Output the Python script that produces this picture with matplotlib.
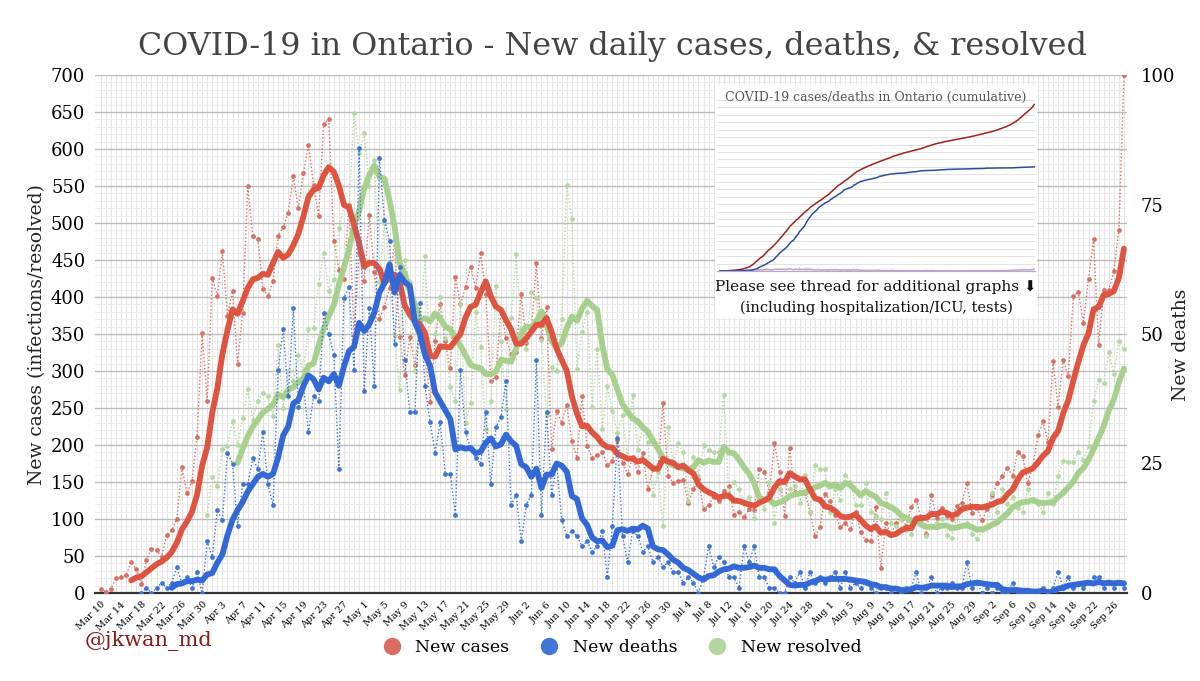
import numpy as np
import pandas as pd
import matplotlib

matplotlib.use("Agg")
import matplotlib.pyplot as plt
from matplotlib.lines import Line2D
from matplotlib.patches import Rectangle

plt.rcParams["font.family"] = ["DejaVu Serif", "DejaVu Sans"]

NA = np.nan
START = "2020-03-10"

# daily new cases, Mar 10 - Sep 28
cases_mar = [6, 1, 6, 20, 21, 24, 42, 32, 12, 45, 60, 58, 49, 78, 85, 100, 170, 135, 151, 211, 351, 260]
cases_apr = [426, 401, 462, 375, 408, 309, 379, 550, 483, 478, 411, 401, 421, 483, 494, 514, 564, 520, 567, 606,
             551, 510, 634, 640, 476, 437, 424, 525, 347, 459]
cases_may = [421, 511, 434, 370, 387, 412, 477, 346, 294, 346, 308, 361, 329, 258, 341, 391, 340, 304, 427, 390,
             413, 441, 412, 460, 404, 287, 292, 383, 344, 323, 326]
cases_jun = [404, 338, 356, 446, 344, 387, 194, 246, 230, 254, 205, 183, 266, 198, 183, 186, 191, 173, 178, 207,
             176, 161, 184, 163, 189, 140, 167, 170, 257, 158]
cases_jul = [149, 151, 153, 122, 140, 154, 113, 119, 130, 124, 138, 144, 105, 110, 103, 113, 112, 167, 164, 135,
             203, 164, 104, 196, 137, 137, 135, 110, 77, 89, 134]
cases_aug = [125, 105, 89, 95, 86, 110, 83, 71, 70, 116, 34, 95, 78, 95, 105, 90, 116, 126, 100, 80,
             132, 101, 115, 104, 100, 118, 122, 148, 108, 115, 98]
cases_sep = [114, 132, 148, 158, 169, 158, 190, 185, 149, 170, 213, 232, 204, 313, 251, 315, 293, 401, 407, 365,
             425, 478, 335, 409, 409, 435, 491, 700]

# daily new deaths
deaths_mar = [NA] * 8 + [0, 1, 0, 1, 2, 1, 2, 5, 2, 3, 1, 4, 0, 10]
deaths_apr = [7, 16, 14, 27, 25, 13, 21, 21, 26, 24, 31, 21, 17, 43, 51, 38, 55, 36, 40, 31,
              38, 37, 54, 50, 46, 24, 57, 59, 43, 86]
deaths_may = [39, 55, 40, 84, 72, 68, 48, 63, 45, 35, 35, 56, 40, 33, 27, 33, 23, 23, 15, 43,
              31, 28, 26, 25, 35, 21, 32, 34, 41, 17, 19]
deaths_jun = [10, 17, 19, 45, 15, 35, 19, 25, 14, 11, 12, 11, 9, 10, 8, 9, 12, 3, 13, 30,
              11, 6, 12, 11, 8, 9, 6, 7, 5, 6]
deaths_jul = [4, 4, 2, 3, 2, 0, 3, 9, 5, 7, 6, 3, 3, 1, 9, 6, 9, 3, 3, 1, 1, 0, 0, 3, 2, 4, 1, 4, 2, 3, 2]
deaths_aug = [3, 4, 1, 4, 1, 2, 1, 2, 1, 0, 1, 1, 0, 1, 0, 1, 1, 4, 0, 1, 3, 0, 1, 1, 2, 1, 1, 6, 1, 2, 0]
deaths_sep = [1, 0, 1, 0, 0, 2, 0, 0, 0, 0, 0, 1, 0, 1, 4, 1, 3, 1, 2, 1, 2, 3, 3, 1, 2, 1, 2, 1]

# daily new resolved
resolved_mar = [NA] * 21 + [105]
resolved_apr = [157, 144, 195, 199, 233, 200, 236, 276, 234, 260, 270, 266, 239, 335, 250, 300, 286, 321, 300, 357,
                358, 417, 460, 408, 424, 493, 525, 520, 648, 595]
resolved_may = [621, 550, 585, 420, 500, 442, 348, 275, 450, 420, 300, 350, 455, 320, 350, 400, 344, 278, 259, 390,
                230, 257, 380, 332, 222, 259, 415, 341, 249, 371, 458]
resolved_jun = [357, 330, 407, 399, 342, 240, 305, 300, 370, 552, 506, 303, 353, 380, 252, 330, 221, 280, 246, 216,
                240, 182, 267, 193, 224, 204, 132, 163, 91, 225]
resolved_jul = [172, 203, 190, 125, 184, 158, 200, 193, 190, 190, 268, 130, 150, 140, 120, 130, 101, 130, 113, 150,
                95, 140, 150, 140, 145, 122, 160, 110, 173, 167, 167]
resolved_aug = [110, 140, 126, 160, 150, 119, 119, 149, 110, 104, 100, 135, 95, 90, 100, 85, 80, 100, 95, 77,
                90, 95, 100, 79, 75, 105, 90, 95, 80, 73, 85]
resolved_sep = [90, 135, 110, 140, 120, 130, 115, 110, 140, 125, 120, 110, 135, 120, 158, 179, 177, 177, 191, 180,
                198, 259, 288, 284, 326, 296, 340, 330]

cases = cases_mar + cases_apr + cases_may + cases_jun + cases_jul + cases_aug + cases_sep
deaths = deaths_mar + deaths_apr + deaths_may + deaths_jun + deaths_jul + deaths_aug + deaths_sep
resolved = resolved_mar + resolved_apr + resolved_may + resolved_jun + resolved_jul + resolved_aug + resolved_sep

dates = pd.date_range(START, periods=len(cases), freq="D")
df = pd.DataFrame({"cases": cases, "deaths": deaths, "resolved": resolved}, index=dates, dtype=float)
avg = df.rolling(7, min_periods=7).mean()
cum = df.fillna(0).cumsum()

RED, RED_DOT = "#df5440", "#da6e64"
BLUE, BLUE_DOT = "#3468d6", "#3d73d6"
GREEN, GREEN_DOT = "#a7d08f", "#b5d7a2"
DOTTED = (0, (1, 1.6))

W, H = 1200, 681
fig = plt.figure(figsize=(W / 100, H / 100), dpi=100)
ax = fig.add_axes([95 / W, 1 - 593 / H, (1127 - 95) / W, (593 - 75) / H])
ax2 = ax.twinx()

# primary axis: cases and resolved
ax.plot(dates, df["cases"], ls=DOTTED, lw=1.0, color=RED_DOT, marker="o", ms=3.4, mew=0, zorder=3)
ax.plot(dates, df["resolved"], ls=DOTTED, lw=1.0, color=GREEN_DOT, marker="o", ms=3.4, mew=0, zorder=3)
ax.plot(dates, avg["resolved"], color=GREEN, lw=4.2, solid_capstyle="round", zorder=4)
ax.plot(dates, avg["cases"], color=RED, lw=4.2, solid_capstyle="round", zorder=5)

# secondary axis: deaths
ax2.plot(dates, df["deaths"], ls=DOTTED, lw=1.0, color=BLUE_DOT, marker="o", ms=3.4, mew=0, zorder=3)
ax2.plot(dates, avg["deaths"], color=BLUE, lw=4.2, solid_capstyle="round", zorder=4)

ax.set_ylim(0, 700)
ax2.set_ylim(0, 100)
ax.set_xlim(dates[0] - pd.Timedelta(days=1.15), dates[-1] + pd.Timedelta(days=0.6))

ax.set_yticks(np.arange(0, 701, 50))
ax.set_yticks(np.arange(0, 701, 10), minor=True)
ax2.set_yticks([0, 25, 50, 75, 100])
ticks = dates[::4]
ax.set_xticks(ticks)
ax.set_xticklabels([f"{d:%b} {d.day}" for d in ticks], rotation=45, ha="right",
                   rotation_mode="anchor", fontsize=7)
ax.set_xticks(dates, minor=True)

ax.grid(which="major", axis="y", color="#bcbcbc", lw=1.0)
ax.grid(which="minor", axis="y", color="#ececec", lw=0.7)
ax.grid(which="both", axis="x", color="#e4e4e4", lw=0.7)
ax.set_axisbelow(True)

ax.tick_params(axis="y", which="both", length=0, pad=7, labelsize=13)
ax.tick_params(axis="x", which="both", length=0, pad=5)
ax2.tick_params(axis="y", length=0, pad=10, labelsize=13)
for a in (ax, ax2):
    for side in ("left", "right", "top"):
        a.spines[side].set_visible(False)
    a.spines["bottom"].set_color("#333333")
    a.spines["bottom"].set_linewidth(1.6)
ax2.spines["bottom"].set_visible(False)

fig.text(612 / W, 1 - 47 / H, "COVID-19 in Ontario - New daily cases, deaths, & resolved",
         ha="center", va="center", fontsize=22.9, color="#444444")
fig.text(37 / W, 1 - 335 / H, "New cases (infections/resolved)", rotation=90,
         ha="center", va="center", fontsize=13.5, color="#222222")
fig.text(1181 / W, 1 - 345 / H, "New deaths", rotation=90,
         ha="center", va="center", fontsize=13.5, color="#222222")
fig.text(85 / W, 1 - 641 / H, "@jkwan_md", ha="left", va="center", fontsize=15, color="#8b1a1a")

handles = [Line2D([], [], ls="none", marker="o", ms=12.5, mew=0, color=c)
           for c in ("#dc6b61", "#3f77d8", "#b4d6a0")]
fig.legend(handles, ["New cases", "New deaths", "New resolved"], loc="center",
           bbox_to_anchor=(618 / W, 1 - 648 / H), ncol=3, frameon=False, fontsize=12.5,
           handletextpad=0.35, columnspacing=1.3)

# inset: cumulative cases / deaths
box = Rectangle((715 / W, 1 - 318 / H), (1037 - 715) / W, (318 - 85) / H,
                transform=fig.transFigure, facecolor="white", edgecolor="none", zorder=5)
fig.add_artist(box)
ins = fig.add_axes([717 / W, 1 - 271 / H, (1035 - 717) / W, (271 - 100) / H], zorder=6)
ins2 = ins.twinx()
ins.plot(dates, df["cases"], color="#a08cc0", lw=1.0, alpha=0.7)
ins.plot(dates, cum["cases"], color="#a3201c", lw=1.1)
ins2.plot(dates, df["deaths"].fillna(0), color="#c49ab8", lw=0.8, alpha=0.6)
ins2.plot(dates, cum["deaths"], color="#2b4f9e", lw=1.1)
ins.set_ylim(0, 51500)
ins2.set_ylim(0, 4700)
ins.set_xlim(dates[0] - pd.Timedelta(days=2), dates[-1] + pd.Timedelta(days=0.5))
ins.set_yticks(np.linspace(0, 51500, 24))
ins.grid(axis="y", color="#e3e3e3", lw=0.7)
ins.set_xticks([])
for a in (ins, ins2):
    a.tick_params(left=False, right=False, labelleft=False, labelright=False)
    for side in ("left", "right", "top"):
        a.spines[side].set_visible(False)
    a.spines["bottom"].set_color("#b9a9c9")
    a.spines["bottom"].set_linewidth(0.8)
ins.set_facecolor("white")

fig.text(876 / W, 1 - 97 / H, "COVID-19 cases/deaths in Ontario (cumulative)", ha="center", va="center",
         fontsize=9, color="#555555", zorder=7)
fig.text(876 / W, 1 - 287 / H, "Please see thread for additional graphs \u2b07", ha="center", va="center",
         fontsize=11, color="#111111", zorder=7)
fig.text(876 / W, 1 - 308 / H, "(including hospitalization/ICU, tests)", ha="center", va="center",
         fontsize=10.5, color="#111111", zorder=7)

fig.savefig("out.png", dpi=100, facecolor="white")
